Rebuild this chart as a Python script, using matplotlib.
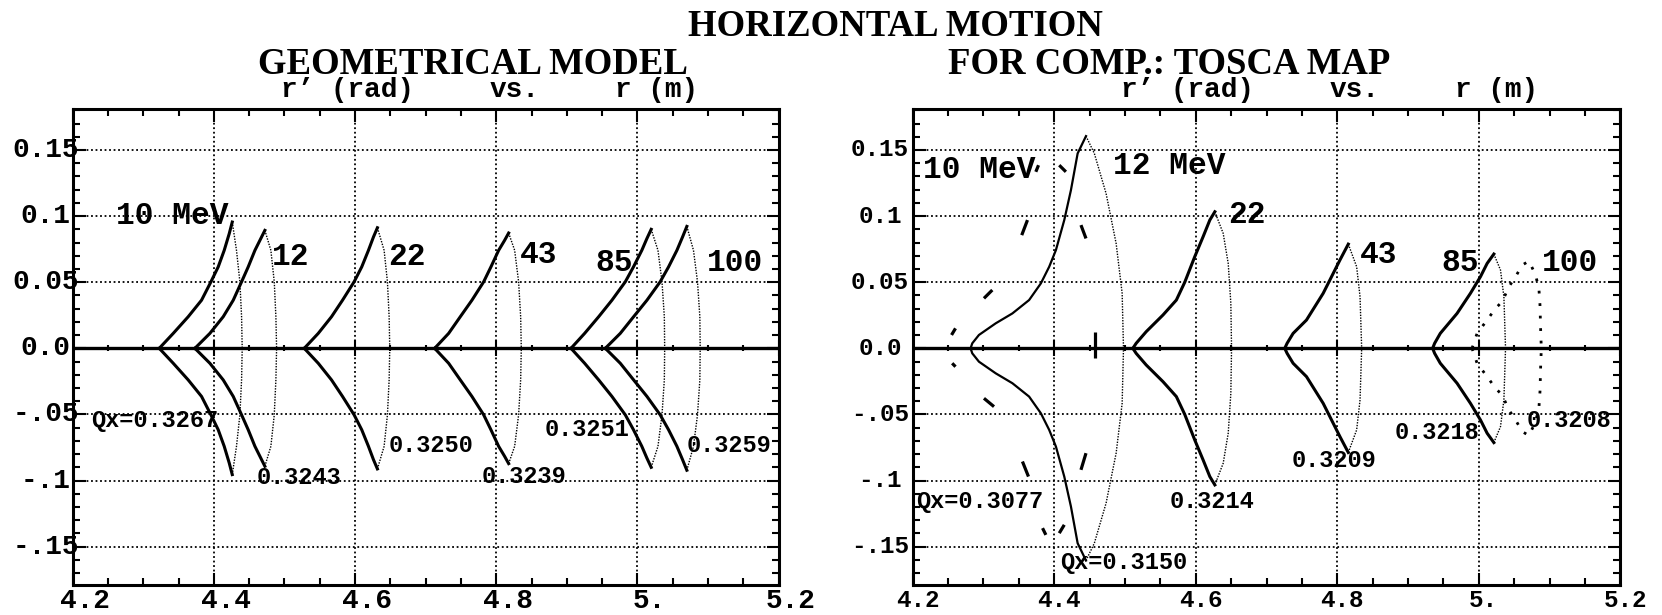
import numpy as np
import matplotlib
matplotlib.use("Agg")
import matplotlib.pyplot as plt
from matplotlib.ticker import MultipleLocator

# ---- data: upper half of each contour, tip -> peak -> right edge
# left panel: geometrical model
geo_10_r = [4.3226, 4.3424, 4.3636, 4.3825, 4.3958, 4.4061, 4.4146, 4.4217, 4.4260, 4.4320, 4.4368, 4.4392, 4.4401]
geo_10_rp = [0.0, 0.0113, 0.0239, 0.0364, 0.0503, 0.0616, 0.0741, 0.0867, 0.0955, 0.0741, 0.0503, 0.0239, 0.0]
geo_12_r = [4.3731, 4.3943, 4.4132, 4.4274, 4.4392, 4.4486, 4.4581, 4.4652, 4.4722, 4.4807, 4.4855, 4.4878, 4.4888]
geo_12_rp = [0.0, 0.0113, 0.0239, 0.0364, 0.0503, 0.0616, 0.0741, 0.0817, 0.0892, 0.0741, 0.0503, 0.0239, 0.0]
geo_22_r = [4.5280, 4.5478, 4.5666, 4.5822, 4.5986, 4.6094, 4.6189, 4.6260, 4.6316, 4.6411, 4.6458, 4.6482, 4.6491]
geo_22_rp = [0.0, 0.0113, 0.0239, 0.0364, 0.0503, 0.0616, 0.0741, 0.0842, 0.0912, 0.0741, 0.0503, 0.0239, 0.0]
geo_43_r = [4.7127, 4.7325, 4.7490, 4.7655, 4.7821, 4.7924, 4.8033, 4.8118, 4.8175, 4.8260, 4.8316, 4.8345, 4.8354]
geo_43_rp = [0.0, 0.0113, 0.0239, 0.0364, 0.0503, 0.0616, 0.0741, 0.0817, 0.0872, 0.0741, 0.0503, 0.0239, 0.0]
geo_85_r = [4.9058, 4.9251, 4.9450, 4.9638, 4.9827, 4.9943, 5.0061, 5.0132, 5.0194, 5.0290, 5.0347, 5.0380, 5.0385]
geo_85_rp = [0.0, 0.0113, 0.0239, 0.0364, 0.0503, 0.0616, 0.0741, 0.0829, 0.0900, 0.0741, 0.0503, 0.0239, 0.0]
geo_100_r = [4.9544, 4.9756, 4.9945, 5.0134, 5.0321, 5.0440, 5.0558, 5.0638, 5.0699, 5.0793, 5.0850, 5.0883, 5.0888]
geo_100_rp = [0.0, 0.0113, 0.0239, 0.0364, 0.0503, 0.0616, 0.0741, 0.0842, 0.0922, 0.0741, 0.0503, 0.0239, 0.0]

# right panel: TOSCA map
tosca_12_r = [4.2818, 4.2842, 4.2936, 4.3173, 4.3409, 4.3645, 4.3811, 4.3929, 4.4024, 4.4142, 4.4236, 4.4331,
              4.4449, 4.4567, 4.4733, 4.4875, 4.4960, 4.4979]
tosca_12_rp = [0.0, 0.0038, 0.0101, 0.0189, 0.0264, 0.0365, 0.0491, 0.0617, 0.0743, 0.0970, 0.1196, 0.1474,
               0.1605, 0.1474, 0.1171, 0.0793, 0.0416, 0.0]
tosca_22_r = [4.5111, 4.5158, 4.5300, 4.5537, 4.5726, 4.5844, 4.5986, 4.6104, 4.6199, 4.6270, 4.6388, 4.6459, 4.6496, 4.6506]
tosca_22_rp = [0.0, 0.0038, 0.0126, 0.0252, 0.0365, 0.0499, 0.0693, 0.0844, 0.0970, 0.1033, 0.0869, 0.0642, 0.0340, 0.0]
tosca_43_r = [4.7258, 4.7291, 4.7376, 4.7565, 4.7801, 4.7943, 4.8038, 4.8156, 4.8274, 4.8322, 4.8345]
tosca_43_rp = [0.0, 0.0038, 0.0113, 0.0214, 0.0416, 0.0567, 0.0668, 0.0788, 0.0617, 0.0390, 0.0]
tosca_85_r = [4.9348, 4.9376, 4.9456, 4.9693, 4.9882, 5.0024, 5.0118, 5.0213, 5.0307, 5.0355, 5.0378]
tosca_85_rp = [0.0, 0.0038, 0.0113, 0.0264, 0.0416, 0.0542, 0.0642, 0.0713, 0.0592, 0.0390, 0.0]
tosca_100_r = [4.9905, 4.9976, 5.0118, 5.0236, 5.0331, 5.0426, 5.0520, 5.0615, 5.0709, 5.0804, 5.0851, 5.0865, 5.0875, 5.0884]
tosca_100_rp = [0.0, 0.0113, 0.0214, 0.0302, 0.0353, 0.0466, 0.0542, 0.0630, 0.0660, 0.0554, 0.0441, 0.0327, 0.0126, 0.0]

# 10 MeV in the TOSCA map only shows as scattered dashes (start r, r' -> end r, r')
dash_r0 = [4.2549, 4.2558, 4.3007, 4.3007, 4.3541, 4.3551, 4.3740, 4.4071, 4.3835, 4.4071, 4.4378, 4.4378, 4.4577]
dash_rp0 = [0.0101, -0.0113, 0.0378, -0.0378, 0.0856, -0.0856, 0.1335, 0.1385, -0.1360, -0.1398, 0.0932, -0.0919, 0.0126]
dash_r1 = [4.2605, 4.2605, 4.3125, 4.3149, 4.3622, 4.3636, 4.3778, 4.4165, 4.3882, 4.4142, 4.4449, 4.4449, 4.4577]
dash_rp1 = [0.0151, -0.0139, 0.0441, -0.0441, 0.0970, -0.0970, 0.1385, 0.1335, -0.1411, -0.1335, 0.0831, -0.0793, -0.0076]

# labels: text, r (left edge), r' (centre)
geo_lab = ["10 MeV", "12", "22", "43", "85", "100"]
geo_lab_r = [4.2618, 4.4819, 4.6470, 4.8336, 4.9398, 5.0980]
geo_lab_rp = [0.1003, 0.0693, 0.0693, 0.0706, 0.0643, 0.0643]
geo_qx = ["Qx=0.3267", "0.3243", "0.3250", "0.3239", "0.3251", "0.3259"]
geo_qx_r = [4.2259, 4.4606, 4.6470, 4.7793, 4.8690, 5.0697]
geo_qx_rp = [-0.0548, -0.0979, -0.0737, -0.0971, -0.0613, -0.0737]

tosca_lab = ["10 MeV", "12 MeV", "22", "43", "85", "100"]
tosca_lab_r = [4.2146, 4.4830, 4.6460, 4.8321, 4.9476, 5.0889]
tosca_lab_rp = [0.1349, 0.1381, 0.1008, 0.0706, 0.0643, 0.0643]
tosca_qx = ["Qx=0.3077", "Qx=0.3150", "0.3214", "0.3209", "0.3218", "0.3208"]
tosca_qx_r = [4.2051, 4.4077, 4.5632, 4.7356, 4.8816, 5.0678]
tosca_qx_rp = [-0.1160, -0.1620, -0.1160, -0.0852, -0.0636, -0.0548]

xtick_vals = [4.2, 4.4, 4.6, 4.8, 5.0, 5.2]
xtick_labels = ["4.2", "4.4", "4.6", "4.8", "5.", "5.2"]
ytick_vals = [-0.15, -0.1, -0.05, 0.0, 0.05, 0.1, 0.15]
ytick_labels = ["-.15", "-.1", "-.05", "0.0", "0.05", "0.1", "0.15"]

MONO = "Liberation Mono"
SERIF = "Liberation Serif"

fig = plt.figure(figsize=(16.62, 6.15), dpi=100)
W, H = 1662.0, 615.0
ax1 = fig.add_axes([72.7 / W, 1 - 585 / H, 706 / W, 476 / H])
ax2 = fig.add_axes([912.7 / W, 1 - 585 / H, 707.6 / W, 476 / H])


def setup(ax, tick_fs, xlab_dx, ylab_dx):
    ax.set_xlim(4.2, 5.2)
    ax.set_ylim(-0.179, 0.181)
    ax.xaxis.set_major_locator(MultipleLocator(0.2))
    ax.xaxis.set_minor_locator(MultipleLocator(0.05))
    ax.yaxis.set_major_locator(MultipleLocator(0.05))
    ax.yaxis.set_minor_locator(MultipleLocator(0.01))
    ax.tick_params(which="both", direction="in", top=True, right=True,
                   labelbottom=False, labelleft=False, width=1.5)
    ax.tick_params(which="major", length=9)
    ax.tick_params(which="minor", length=5)
    ax.grid(which="major", color="black", lw=1.3, ls=(0, (1, 1.5)))
    for s in ax.spines.values():
        s.set_linewidth(2.2)
    # zero line with crossing ticks
    ax.axhline(0, color="black", lw=2.4, zorder=3)
    ax.plot(ax.xaxis.get_minorticklocs(), np.zeros(len(ax.xaxis.get_minorticklocs())),
            "|", color="black", ms=5, mew=1.5, zorder=3)
    ax.plot(xtick_vals, np.zeros(len(xtick_vals)), "|", color="black", ms=11, mew=1.5, zorder=3)
    for v, t in zip(xtick_vals, xtick_labels):
        ax.text(v + xlab_dx, -0.0326, t, transform=ax.get_xaxis_transform(), ha="center", va="center",
                family=MONO, weight="bold", fontsize=tick_fs, clip_on=False)
    for v, t in zip(ytick_vals, ytick_labels):
        ax.text(ylab_dx, v, t, transform=ax.get_yaxis_transform(), ha="center", va="center",
                family=MONO, weight="bold", fontsize=tick_fs, clip_on=False)


def fish(ax, r, rp, lw):
    r = np.asarray(r)
    rp = np.asarray(rp)
    k = int(rp.argmax())
    for s in (1, -1):
        ax.plot(r[:k + 1], s * rp[:k + 1], color="black", lw=lw, zorder=4)
        ax.plot(r[k:], s * rp[k:], color="black", lw=1.0, ls=(0, (1, 1)), zorder=4)


setup(ax1, 20, 0.017, -0.0385)
setup(ax2, 17.5, 0.007, -0.0462)

for r, rp in [(geo_10_r, geo_10_rp), (geo_12_r, geo_12_rp), (geo_22_r, geo_22_rp),
              (geo_43_r, geo_43_rp), (geo_85_r, geo_85_rp), (geo_100_r, geo_100_rp)]:
    fish(ax1, r, rp, 2.2)

fish(ax2, tosca_12_r, tosca_12_rp, 1.6)
for r, rp in [(tosca_22_r, tosca_22_rp), (tosca_43_r, tosca_43_rp), (tosca_85_r, tosca_85_rp)]:
    fish(ax2, r, rp, 2.2)
for s in (1, -1):
    ax2.plot(tosca_100_r, s * np.asarray(tosca_100_rp), color="black", lw=2.0, ls=(0, (1, 3.5)), zorder=4)
for a, b, c, d in zip(dash_r0, dash_rp0, dash_r1, dash_rp1):
    ax2.plot([a, c], [b, d], color="black", lw=2.3, solid_capstyle="butt", zorder=4)

for ax, labs, lr, lp, qx, qr, qp in [(ax1, geo_lab, geo_lab_r, geo_lab_rp, geo_qx, geo_qx_r, geo_qx_rp),
                                     (ax2, tosca_lab, tosca_lab_r, tosca_lab_rp, tosca_qx, tosca_qx_r, tosca_qx_rp)]:
    for t, x, y in zip(labs, lr, lp):
        ax.text(x, y, t, ha="left", va="center", family=MONO, weight="bold", fontsize=22.5, zorder=5)
    for t, x, y in zip(qx, qr, qp):
        ax.text(x, y, t, ha="left", va="center", family=MONO, weight="bold", fontsize=17, zorder=5)

# titles
fig.text(895 / W, 1 - 36 / H, "HORIZONTAL MOTION", ha="center", va="baseline",
         family=SERIF, weight="bold", fontsize=26.5)
fig.text(473 / W, 1 - 74 / H, "GEOMETRICAL MODEL", ha="center", va="baseline",
         family=SERIF, weight="bold", fontsize=26.5)
fig.text(1169 / W, 1 - 74 / H, "FOR COMP.: TOSCA MAP", ha="center", va="baseline",
         family=SERIF, weight="bold", fontsize=26.5)
for x0 in (72.7, 912.7):
    for dx, t in [(208, "r\u2019 (rad)"), (417, "vs."), (542, "r (m)")]:
        fig.text((x0 + dx) / W, 1 - 97 / H, t, ha="left", va="baseline",
                 family=MONO, weight="bold", fontsize=20)

fig.savefig("out.png", dpi=100)
